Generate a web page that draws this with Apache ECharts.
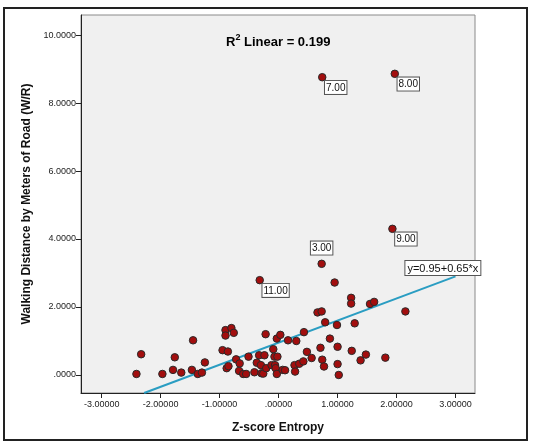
<!DOCTYPE html>
<html>
<head>
<meta charset="utf-8">
<script src="https://cdn.jsdelivr.net/npm/echarts@6/dist/echarts.min.js"></script>
<style>
  html, body { margin: 0; padding: 0; background: #fff; }
  #chart { width: 543px; height: 441px; }
</style>
</head>
<body>
<div id="chart"></div>
<script>
  // scatter: Z-score Entropy vs Walking distance / metres of road
  const entropyZ = [
    -2.41, -2.33, -1.97, -1.79, -1.76, -1.65, -1.47, -1.45, -1.37, -1.30,
    -1.25, -0.95, -0.90, -0.90, -0.86, -0.80, -0.76, -0.88, -0.85, -0.72,
    -0.67, -0.66, -0.60, -0.55, -0.51, -0.41, -0.37, -0.33, -0.30, -0.29,
    -0.26, -0.24, -0.22, -0.21, -0.09, -0.12, -0.07, -0.06, -0.05, -0.03,
    -0.02, -0.03, 0.03, 0.07, 0.11, 0.16, 0.27, 0.28, 0.30, 0.35,
    0.42, 0.43, 0.48, 0.56, 0.66, 0.73, 0.71, 0.74, 0.77, 0.79,
    0.87, 0.95, 0.99, 1.00, 1.00, 1.02, 1.23, 1.23, 1.24, 1.29,
    1.39, 1.48, 1.55, 1.62, 1.81, 2.15
  ];
  const walkRatio = [
    0.03, 0.61, 0.03, 0.15, 0.52, 0.07, 0.15, 1.02, 0.03, 0.07,
    0.37, 0.73, 1.32, 1.16, 0.69, 1.38, 1.24, 0.20, 0.26, 0.46,
    0.12, 0.34, 0.03, 0.03, 0.54, 0.08, 0.36, 0.58, 0.29, 0.05,
    0.04, 0.58, 1.20, 0.20, 0.76, 0.29, 0.54, 0.29, 0.20, 0.03,
    0.54, 1.07, 1.18, 0.15, 0.14, 1.02, 0.29, 0.10, 1.00, 0.33,
    0.40, 1.26, 0.68, 0.50, 1.84, 1.87, 0.80, 0.45, 0.25, 1.55,
    1.07, 2.72, 1.47, 0.83, 0.32, 0.00, 2.27, 2.10, 0.71, 1.52,
    0.43, 0.60, 2.09, 2.15, 0.51, 1.87
  ];
  // labelled cases
  const caseX = [0.74, 1.97, 0.73, 1.93, -0.32];
  const caseY = [8.76, 8.86, 3.27, 4.30, 2.79];
  const caseLabel = ['7.00', '8.00', '3.00', '9.00', '11.00'];

  // fit line y = 0.95 + 0.65x
  const fitX = [-2.28, 3.00];
  const fitY = [-0.53, 2.90];

  const xTicks = [-3, -2, -1, 0, 1, 2, 3];
  const xTickLabels = ['-3.00000', '-2.00000', '-1.00000', '.00000', '1.00000', '2.00000', '3.00000'];
  const yTicks = [0, 2, 4, 6, 8, 10];
  const yTickLabels = ['.0000', '2.0000', '4.0000', '6.0000', '8.0000', '10.0000'];

  const font = "'Liberation Sans', Arial, sans-serif";
  const myChart = echarts.init(document.getElementById('chart'));

  const pts = entropyZ.map((x, i) => [x, walkRatio[i]]);
  const boxLabel = {
    show: true,
    color: '#111',
    fontFamily: font,
    fontSize: 10,
    backgroundColor: '#fff',
    borderColor: '#555',
    borderWidth: 1,
    padding: [2, 1, 1, 1],
    align: 'left',
    verticalAlign: 'top'
  };
  const casePts = caseX.map((x, i) => ({
    value: [x, caseY[i]],
    label: caseLabel[i] === '3.00'
      ? Object.assign({}, boxLabel, { formatter: caseLabel[i], position: 'top', distance: 5, align: 'center', verticalAlign: 'bottom' })
      : Object.assign({}, boxLabel, { formatter: caseLabel[i], position: [7, 8] })
  }));

  const option = {
    animation: false,
    backgroundColor: '#fff',
    grid: {
      left: 81, top: 15, right: 68, bottom: 48,
      show: true,
      backgroundColor: '#f0f0f0',
      borderColor: '#8a8a8a',
      borderWidth: 1
    },
    xAxis: {
      type: 'value',
      min: -3.35,
      max: 3.33,
      name: 'Z-score Entropy',
      nameLocation: 'middle',
      nameGap: 29,
      nameTextStyle: { fontFamily: font, fontSize: 12, fontWeight: 'bold', color: '#111' },
      axisLine: { show: true, onZero: false, lineStyle: { color: '#222', width: 1 } },
      axisTick: { show: true, length: 5, customValues: xTicks, lineStyle: { color: '#222' } },
      axisLabel: {
        customValues: xTicks,
        fontFamily: font, fontSize: 9, color: '#222', margin: 7,
        formatter: v => xTickLabels[xTicks.indexOf(Math.round(v))]
      },
      splitLine: { show: false }
    },
    yAxis: {
      type: 'value',
      min: -0.53,
      max: 10.59,
      name: 'Walking Distance by Meters of Road (W/R)',
      nameLocation: 'middle',
      nameGap: 47,
      nameTextStyle: { fontFamily: font, fontSize: 12, fontWeight: 'bold', color: '#111' },
      axisLine: { show: true, onZero: false, lineStyle: { color: '#222', width: 1 } },
      axisTick: { show: true, length: 5, customValues: yTicks, lineStyle: { color: '#222' } },
      axisLabel: {
        customValues: yTicks,
        fontFamily: font, fontSize: 9, color: '#222', margin: 5,
        formatter: v => yTickLabels[yTicks.indexOf(Math.round(v))]
      },
      splitLine: { show: false }
    },
    graphic: [
      {
        type: 'rect',
        shape: { x: 4, y: 8, width: 523, height: 432 },
        style: { fill: 'none', stroke: '#222', lineWidth: 2 },
        silent: true
      },
      {
        type: 'text',
        left: 226,
        top: 33,
        style: {
          text: '{b|R}{s|2}{b| Linear = 0.199}',
          fontFamily: font,
          rich: {
            b: { fontFamily: font, fontSize: 13, fontWeight: 'bold', color: '#111', lineHeight: 16, verticalAlign: 'bottom' },
            s: { fontFamily: font, fontSize: 9, fontWeight: 'bold', color: '#111', lineHeight: 16, verticalAlign: 'top' }
          }
        }
      }
    ],
    series: [
      {
        name: 'fit',
        type: 'line',
        data: fitX.map((x, i) => [x, fitY[i]]),
        symbol: 'none',
        clip: true,
        lineStyle: { color: '#2a9dc2', width: 2 },
        markPoint: {
          symbol: 'rect',
          symbolSize: 0,
          data: [{ coord: [2.15, 3.35] }],
          label: Object.assign({}, boxLabel, { formatter: 'y=0.95+0.65*x', position: [0, 0], fontSize: 11, padding: [2, 2, 1, 2] })
        },
        z: 2
      },
      {
        name: 'points',
        type: 'scatter',
        data: pts.concat(casePts),
        symbolSize: 7.5,
        itemStyle: { color: '#a20e0e', borderColor: '#2a2a2a', borderWidth: 1, opacity: 1 },
        z: 3
      }
    ]
  };

  option && myChart.setOption(option);
</script>
</body>
</html>
